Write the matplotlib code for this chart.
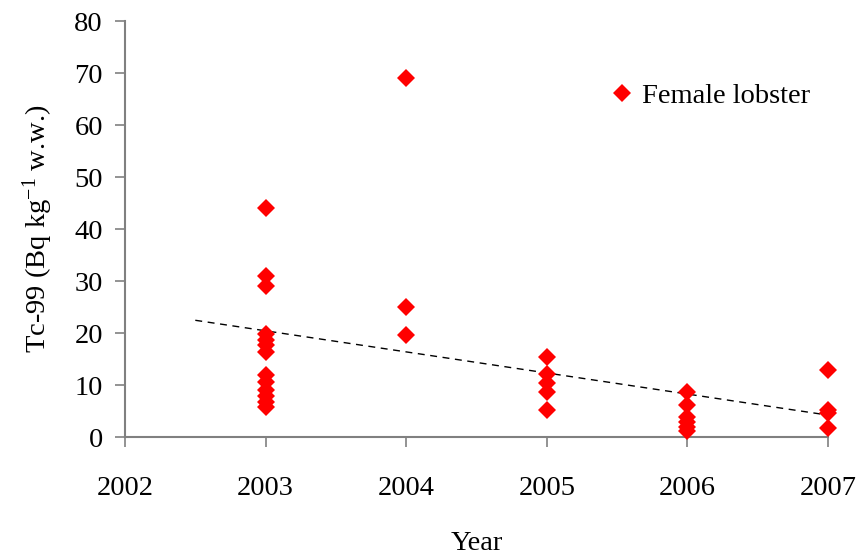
import numpy as np
import matplotlib
matplotlib.use('Agg')
import matplotlib.pyplot as plt

plt.rcParams['font.family'] = ['Liberation Serif', 'DejaVu Serif']
plt.rcParams['mathtext.default'] = 'regular'

# Tc-99 in female lobster, by year
years_2003 = [44.0, 31.0, 29.0, 19.9, 18.7, 17.7, 16.3, 11.9, 10.6, 9.0, 7.8, 6.7, 5.8]
years_2004 = [69.0, 25.0, 19.6]
years_2005 = [15.4, 12.2, 10.3, 8.6, 5.2]
years_2006 = [8.6, 6.2, 3.8, 2.9, 1.9, 1.2]
years_2007 = [12.9, 5.2, 4.6, 1.7]

year_list = [2003, 2004, 2005, 2006, 2007]
values = [years_2003, years_2004, years_2005, years_2006, years_2007]

x = np.concatenate([[yr] * len(v) for yr, v in zip(year_list, values)])
y = np.concatenate(values)

fig = plt.figure(figsize=(8.59, 5.56), dpi=100)
ax = fig.add_axes([0.1455, 0.214, 0.964 - 0.1455, 0.962 - 0.214])

ax.plot(x, y, linestyle='none', marker='D', markersize=8.8, color='#ff0000',
        markeredgewidth=0, label='Female lobster', clip_on=False, zorder=3)

# linear trend line
k, b = np.polyfit(x, y, 1)
tx = np.array([2002.5, 2007])
ax.plot(tx, k * tx + b, color='black', linestyle=(0, (5, 4)), linewidth=1.0, zorder=2)

ax.set_xlim(2002, 2007)
ax.set_ylim(0, 80)
ax.set_xticks(range(2002, 2008))
ax.set_yticks(range(0, 81, 10))

for s in ['top', 'right']:
    ax.spines[s].set_visible(False)
for s in ['left', 'bottom']:
    ax.spines[s].set_color('#808080')
    ax.spines[s].set_linewidth(1.5)

ax.tick_params(axis='both', direction='out', length=7, width=1.2, color='#808080',
               labelsize=20.5)
ax.tick_params(axis='x', pad=21)
ax.tick_params(axis='y', pad=9)

ax.set_xlabel('Year', fontsize=20.5, labelpad=22)
ax.set_ylabel('Tc-99 (Bq kg$^{-1}$ w.w.)', fontsize=20.5, labelpad=14)

ax.legend(loc='center left', bbox_to_anchor=(0.654, 0.82), frameon=False,
          fontsize=20.5, handlelength=0.8, handletextpad=0.3, numpoints=1)

fig.savefig('out.png', dpi=100)
